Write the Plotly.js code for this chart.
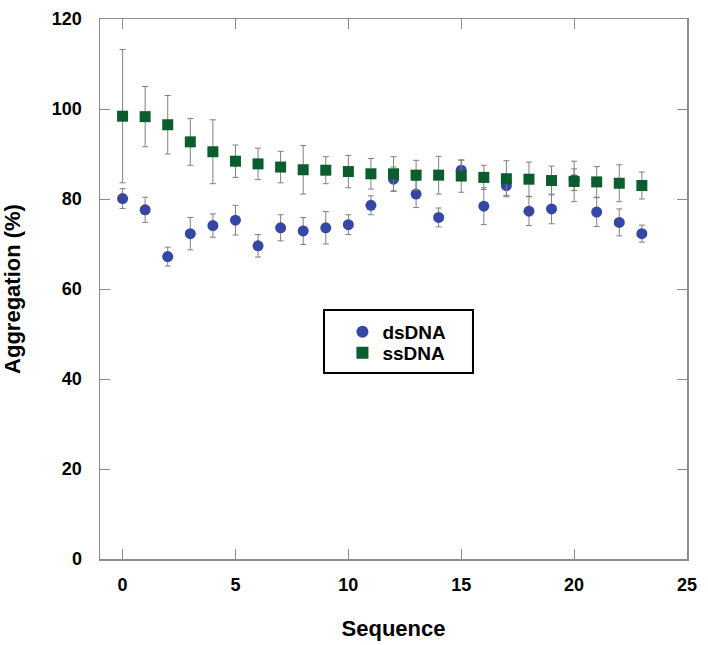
<!DOCTYPE html>
<html>
<head>
<meta charset="utf-8">
<script src="https://cdn.plot.ly/plotly-3.0.1.min.js"></script>
<style>html,body{margin:0;padding:0;background:#fff;}#chart{width:708px;height:645px;}</style>
</head>
<body>
<div id="chart"></div>
<script>
const sequence = [0,1,2,3,4,5,6,7,8,9,10,11,12,13,14,15,16,17,18,19,20,21,22,23];
const dsDNA = [80.1,77.6,67.2,72.3,74.1,75.3,69.6,73.6,72.9,73.6,74.3,78.6,84.4,81.1,75.9,86.4,78.4,83.0,77.3,77.8,84.3,77.1,74.8,72.3];
const dsDNAErr = [2.2,2.8,2.1,3.6,2.6,3.3,2.5,2.9,3.0,3.6,2.2,2.1,2.7,3.0,2.1,2.2,4.1,2.2,3.2,3.3,2.4,3.2,3.0,1.9];
const ssDNA = [98.4,98.3,96.5,92.7,90.5,88.4,87.8,87.1,86.5,86.4,86.1,85.6,85.6,85.3,85.3,85.1,84.8,84.5,84.4,84.1,83.9,83.8,83.5,83.0];
const ssDNAErr = [14.8,6.7,6.5,5.2,7.1,3.6,3.5,3.5,5.4,3.0,3.6,3.4,3.8,3.3,4.2,3.6,2.7,4.0,3.8,3.2,4.5,3.4,4.1,3.0];
const xTicks = [0,5,10,15,20,25];
const yTicks = [0,20,40,60,80,100,120];

const FONT = 'Liberation Sans, Arial, sans-serif';
const errStyle = {type:'data', visible:true, color:'#808080', thickness:1, width:3};

const traces = [
  {x: sequence, y: dsDNA, name: 'dsDNA', type: 'scatter', mode: 'markers', legend: 'legend',
   marker: {symbol: 'circle', size: 11, color: '#3646a3', line: {width: 0}},
   error_y: Object.assign({array: dsDNAErr}, errStyle)},
  {x: sequence, y: ssDNA, name: 'ssDNA', type: 'scatter', mode: 'markers', legend: 'legend2',
   marker: {symbol: 'square', size: 11, color: '#0b5d2d', line: {width: 0}},
   error_y: Object.assign({array: ssDNAErr}, errStyle)}
];

const axisCommon = {
  showgrid: false, zeroline: false, showline: true, linecolor: '#8c8c8c', linewidth: 1.5,
  mirror: 'ticks', ticks: 'inside', ticklen: 10, tickwidth: 1, tickcolor: '#8c8c8c',
  tickfont: {family: FONT, size: 18, color: '#000', weight: 'bold'}
};

const legendCommon = {
  x: 0.413, xanchor: 'left', yanchor: 'middle',
  bgcolor: 'rgba(0,0,0,0)', borderwidth: 0,
  font: {family: FONT, size: 19, color: '#000', weight: 'bold'},
  itemsizing: 'constant'
};

const layout = {
  width: 708, height: 645,
  margin: {l: 100, r: 21, t: 19, b: 86},
  paper_bgcolor: '#fff', plot_bgcolor: '#fff',
  showlegend: true,
  xaxis: Object.assign({}, axisCommon, {
    range: [-1, 25], tickvals: xTicks, ticktext: xTicks.map(String),
    ticklabelstandoff: 9,
    title: {text: '<b>Sequence</b>', font: {family: FONT, size: 22, color: '#000'}, standoff: 26}
  }),
  yaxis: Object.assign({}, axisCommon, {
    range: [0, 120], tickvals: yTicks, ticktext: yTicks.map(String),
    ticklabelstandoff: 13,
    title: {text: '<b>Aggregation (%)</b>', font: {family: FONT, size: 22, color: '#000'}, standoff: 31}
  }),
  legend: Object.assign({}, legendCommon, {y: 0.4204}),
  legend2: Object.assign({}, legendCommon, {y: 0.3815}),
  shapes: [
    {type: 'rect', xref: 'paper', yref: 'paper', x0: 0.3816, x1: 0.6354, y0: 0.3444, y1: 0.4611,
     line: {color: '#000', width: 2}, fillcolor: 'rgba(0,0,0,0)'}
  ]
};

Plotly.newPlot('chart', traces, layout, {displayModeBar: false, staticPlot: true});
</script>
</body>
</html>
